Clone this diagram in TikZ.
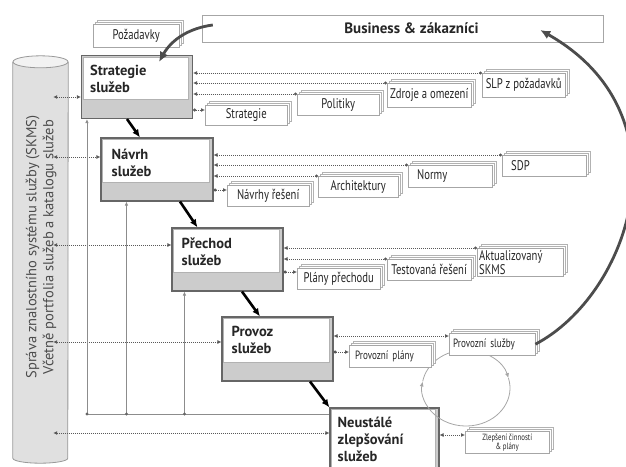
\documentclass[tikz,border=0pt]{standalone}
\usepackage{fontspec}
\setmainfont{PT Sans}
\newfontfamily\narrowfont[FakeStretch=0.76]{PT Sans}
\usetikzlibrary{arrows.meta,shadows,calc}

\tikzset{
  proc/.style={draw=black!60, line width=1.1pt, fill=black!20,
    minimum width=111pt, minimum height=63pt, inner sep=0pt,
    path picture={\draw[black!30, line width=0.6pt, fill=white]
      ([shift={(1.5pt,19pt)}]path picture bounding box.south west) rectangle
      ([shift={(-4pt,-1.5pt)}]path picture bounding box.north east);}},
  proclabel/.style={anchor=north west, inner sep=0pt, align=left, text=black!85,
    font=\fontsize{14.5}{17}\selectfont\bfseries},
  doc/.style={anchor=north west, draw=black!35, fill=white, inner sep=2pt,
    text=black!85, font=\narrowfont\fontsize{14}{13}\selectfont,
    double copy shadow={shadow xshift=2pt, shadow yshift=2pt, draw=black!30}},
  dotline/.style={black!65, line width=1pt, dash pattern=on 1pt off 1pt},
  inlink/.style={dotline, arrows={Latex[length=4pt,width=4pt]-Circle[length=3pt]}},
  outlink/.style={dotline, arrows={Circle[length=3pt]-Latex[length=4pt,width=4pt]}},
  bothlink/.style={dotline, arrows={Latex[length=4pt,width=4pt]-Latex[length=4pt,width=4pt]}},
  feedback/.style={black!45, line width=0.8pt, -{Latex[length=4pt,width=3.5pt]}},
  flow/.style={line width=2.6pt, -{Latex[length=8pt,width=7pt]}},
  bigarrow/.style={black!70, line width=2.8pt, -{Latex[length=10pt,width=9pt]}},
  loopline/.style={black!35, line width=0.8pt}
}

\begin{document}
\begin{tikzpicture}[x=1pt, y=-1pt]
\useasboundingbox (0,0) rectangle (626,466);
\clip (0,0) rectangle (626,466);

% SKMS cylinder
\node[minimum width=55pt, minimum height=396pt, inner sep=0pt] (skms) at (40.5,260) {};
\filldraw[black!40, fill=black!12, line width=0.8pt] (skms.north west) -- (skms.south west)
  arc[start angle=180, end angle=0, x radius=27.5, y radius=5] -- (skms.north east);
\filldraw[black!40, fill=black!5, line width=0.8pt] (skms.north) ellipse [x radius=27.5, y radius=6];
\node[rotate=90, align=center, text=black!70, font=\fontsize{14.5}{17}\selectfont] (skmstext) at (41,247)
  {Správa znalostního systému služby (SKMS)\\Včetně portfolia služeb a katalogu služeb};

% lifecycle stages
\node[proc] (strat) at (137,87) {};
\node[proc, minimum width=112pt] (navrh) at (157,169.5) {};
\node[proc] (prechod) at (227.5,259.5) {};
\node[proc, minimum height=64pt] (provoz) at (277.5,349) {};
\node[proc, minimum width=109pt, minimum height=80pt] (neust) at (384.5,448) {};

\node[proclabel] (strat-l) at ([shift={(9pt,-10pt)}]strat.north west) {Strategie\\služeb};
\node[proclabel] (navrh-l) at ([shift={(11pt,-11pt)}]navrh.north west) {Návrh\\služeb};
\node[proclabel] (prechod-l) at ([shift={(10pt,-10pt)}]prechod.north west) {Přechod\\služeb};
\node[proclabel] (provoz-l) at ([shift={(10pt,-10pt)}]provoz.north west) {Provoz\\služeb};
\node[proclabel] (neust-l) at ([shift={(8pt,-9pt)}]neust.north west) {Neustálé\\zlepšování\\služeb};

\node[draw=black!35, minimum width=401pt, minimum height=27pt, text=black!85,
  font=\fontsize{15}{18}\selectfont\bfseries] (biz) at (402.5,28.5) {\hspace*{18pt}Business \& zákazníci};

% cycle of operation
\draw[loopline, -{Latex[length=5pt,width=4pt]}] (466,350) arc[start angle=270, end angle=345, x radius=44, y radius=38];
\draw[loopline, -{Latex[length=5pt,width=4pt]}] (508.5,378.2) arc[start angle=345, end angle=550, x radius=44, y radius=38];
\draw[loopline] (422.7,381.4) arc[start angle=190, end angle=270, x radius=44, y radius=38];

% documents
\node[doc, minimum width=86pt, minimum height=23pt] (pozad) at (93,24) {Požadavky};
\node[doc, minimum width=83pt, minimum height=24pt] (slp) at (482,73) {SLP z požadavků};
\node[doc, minimum width=84pt, minimum height=24pt] (zdroje) at (387,83) {Zdroje a omezení};
\node[doc, minimum width=82pt, minimum height=21pt] (polit) at (297,94) {Politiky};
\node[doc, minimum width=82pt, minimum height=20pt] (stratdoc) at (205,105) {Strategie};
\node[doc, minimum height=21pt, text width=66pt, inner xsep=9pt, align=left] (sdp) at (502,155) {SDP};
\node[doc, minimum height=22pt, text width=66pt, inner xsep=9pt, align=left] (normy) at (408,165) {Normy};
\node[doc, minimum width=80pt, minimum height=21pt] (arch) at (318,176) {Architektury};
\node[doc, minimum width=82pt, minimum height=21pt] (navdoc) at (227,185) {Návrhy řešení};
\node[doc, text width=82pt, align=left, font=\narrowfont\fontsize{14}{11}\selectfont] (aktual) at (477,248) {Aktualizovaný\\SKMS};
\node[doc, minimum width=84pt, minimum height=21pt] (testov) at (387,259) {Testovaná řešení};
\node[doc, minimum width=83pt, minimum height=21pt] (plany) at (297,268) {Plány přechodu};
\node[doc, minimum height=22pt, text width=78pt, inner xsep=4pt, align=left,
  font=\narrowfont\fontsize{12}{11}\selectfont] (provsl) at (449,333) {Provozní služby};
\node[doc, minimum height=22pt, text width=70pt, inner xsep=6pt, align=left,
  font=\narrowfont\fontsize{12}{11}\selectfont] (provpl) at (349,345) {Provozní plány};
\node[doc, minimum width=84pt, minimum height=22pt, align=center,
  font=\narrowfont\fontsize{9}{9}\selectfont] (zlep) at (465,431) {Zlepšení činností\\\& plány};

% links to documents
\foreach \p/\d in {strat/slp, strat/zdroje, strat/polit, navrh/sdp, navrh/normy, navrh/arch, prechod/aktual, prechod/testov}
  \draw[inlink] (\p.east |- \d.north west) -- (\d.north west);
\foreach \p/\d/\s in {strat/stratdoc/-5pt, navrh/navdoc/-5pt, prechod/plany/-4pt, provoz/provpl/-7pt}
  \draw[outlink] ([yshift=\s]\p.east |- \d.north west) -- ([yshift=\s]\d.north west);
\draw[bothlink] ([yshift=-3pt]provoz.east |- provsl.north west) -- ([yshift=-3pt]provsl.north west);
\draw[bothlink] ([yshift=-4pt]neust.east |- zlep.north west) -- ([yshift=-4pt]zlep.north west);

% links to SKMS
\foreach \p/\dy in {strat/10, navrh/-12.5, prechod/-14.5, provoz/-7, neust/-15}
  \draw[bothlink] ($(\p.west -| skms.east)+(-15,\dy)$) -- ($(\p.west)+(0,\dy)$);

% feedback from improvement
\coordinate (fb) at ($(neust.west)+(0,-34)$);
\draw[feedback] (fb) -| ([xshift=6pt]strat.south west);
\draw[feedback] ([xshift=26pt]navrh.south west |- fb) -- ([xshift=26pt]navrh.south west);
\draw[feedback] ([xshift=13pt]prechod.south west |- fb) -- ([xshift=13pt]prechod.south west);
\foreach \p/\s in {strat/6pt, navrh/26pt, prechod/13pt}
  \fill[black!60] ([xshift=\s]\p.south west |- fb) circle (1.6pt);

% stage flow
\draw[flow] ([xshift=-10pt]strat.south) -- ([xshift=-17pt]navrh.north);
\draw[flow] ([xshift=23pt]navrh.south) -- ([xshift=-30pt]prechod.north);
\draw[flow] ([xshift=14.5pt]prechod.south) -- ([xshift=-17.5pt]provoz.north);
\draw[flow] ([xshift=32.5pt]provoz.south) -- (neust.north west);

% business loop
\draw[bigarrow] ([xshift=11pt,yshift=3.5pt]biz.west) .. controls +(-23,3) and +(13,-23) .. ([xshift=22pt,yshift=-7pt]strat.north);
\draw[bigarrow] (provsl.east) .. controls +(95,-50) and +(150,85) .. ([xshift=-63pt,yshift=-1.5pt]biz.east);
\end{tikzpicture}
\end{document}
